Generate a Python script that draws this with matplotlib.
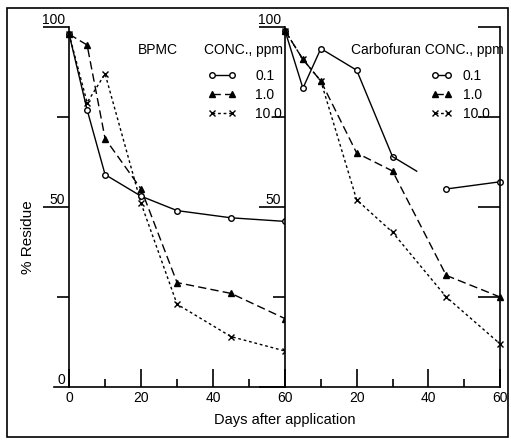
"""BPMC / Carbofuran residue decline, two panels sharing one frame."""

import matplotlib

matplotlib.use("Agg")
import matplotlib.pyplot as plt
from matplotlib.patches import Rectangle

days = [0, 5, 10, 20, 30, 45, 60]
conc_labels = ["0.1", "1.0", "10.0"]

bpmc_01 = [98, 77, 59, 53, 49, 47, 46]
bpmc_1 = [98, 95, 69, 55, 29, 26, 19]
bpmc_10 = [98, 79, 87, 51, 23, 14, 10]

carbo_01 = [99, 83, 94, 88, 64, 55, 57]
carbo_1 = [99, 91, 85, 65, 60, 31, 25]
carbo_10 = [99, 91, 85, 52, 43, 25, 12]

W, H = 511, 442
plt.rcParams["font.family"] = ["Liberation Sans", "DejaVu Sans"]
plt.rcParams["font.size"] = 10


def px(x0, y0, x1, y1):
    # pixel box (top-left origin) -> figure fraction rect
    return [x0 / W, 1 - y1 / H, (x1 - x0) / W, (y1 - y0) / H]


STYLE = {
    "0.1": dict(color="black", lw=1.0, marker="o", ms=4, mfc="white", mew=1.0),
    "1.0": dict(color="black", lw=1.0, ls=(0, (6, 3)), marker="^", ms=4.5),
    "10.0": dict(color="black", lw=1.0, ls=(0, (2, 2)), marker="x", ms=5, mew=1.0),
}


def style_axis(ax, xlabels, ylabels):
    ax.set_ylim(0, 100)
    ax.spines["top"].set_visible(False)
    for s in ax.spines.values():
        s.set_linewidth(1.2)
    ax.set_xticks([0, 20, 40, 60])
    ax.set_xticklabels(xlabels)
    ax.set_xticks([10, 30, 50], minor=True)
    ax.tick_params(axis="x", which="major", direction="in", length=13, width=1.2, pad=3, labelsize=10)
    ax.tick_params(axis="x", which="minor", direction="in", length=6, width=1.2)
    ax.set_yticks([0, 50, 100])
    ax.set_yticklabels(ylabels)
    ax.set_yticks([25, 75], minor=True)
    ax.tick_params(axis="y", which="major", direction="out", length=19, width=1.2, pad=-16, labelsize=10)
    ax.tick_params(axis="y", which="minor", direction="out", length=8.5, width=1.2)
    for lab in ax.get_yticklabels():
        lab.set_va("bottom")
    ax.yaxis.get_major_ticks()[0].tick1line.set_visible(False)


fig = plt.figure(figsize=(W / 100, H / 100), dpi=100)

ax1 = fig.add_axes(px(54, 27, 285, 387))
ax1.set_xlim(-4.2, 60)
ax1.spines["left"].set_position(("data", 0))
ax1.spines["left"].set_bounds(0, 100)
ax1.spines["right"].set_visible(False)
style_axis(ax1, ["0", "20", "40", "60"], ["0", "50", "100"])

ax2 = fig.add_axes(px(285, 27, 500, 387))
ax2.set_xlim(0, 60)
style_axis(ax2, ["", "20", "40", "60"], ["", "50", "100"])

ax2r = ax2.twinx()
ax2r.set_ylim(0, 100)
ax2r.set_yticks([25, 50, 75, 100])
ax2r.set_yticklabels([])
ax2r.tick_params(axis="y", direction="in", length=16, width=1.2)
for s in ax2r.spines.values():
    s.set_visible(False)

# left panel
h1 = []
for lab, vals in zip(conc_labels, [bpmc_01, bpmc_1, bpmc_10]):
    (ln,) = ax1.plot(days, vals, clip_on=False, **STYLE[lab])
    h1.append(ln)

# right panel: the 0.1 curve is broken between day 30 and day 45 in the original
h2 = []
(ln,) = ax2.plot(days[:5], carbo_01[:5], clip_on=False, **STYLE["0.1"])
h2.append(ln)
f = 0.45
ax2.plot([days[4], days[4] + f * (days[5] - days[4])],
         [carbo_01[4], carbo_01[4] + f * (carbo_01[5] - carbo_01[4])],
         color="black", lw=1.0)
ax2.plot(days[5:], carbo_01[5:], clip_on=False, **STYLE["0.1"])
for lab, vals in zip(conc_labels[1:], [carbo_1, carbo_10]):
    (ln,) = ax2.plot(days, vals, clip_on=False, **STYLE[lab])
    h2.append(ln)

# legends
fig.text(158 / W, 1 - 50 / H, "BPMC", ha="center", va="center", fontsize=10)
fig.text(243 / W, 1 - 50 / H, "CONC., ppm", ha="center", va="center", fontsize=10)
fig.text(427 / W, 1 - 50 / H, "Carbofuran CONC., ppm", ha="center", va="center", fontsize=10)
ax1.legend(h1, conc_labels, loc="upper left", bbox_to_anchor=(208 / W, 1 - 69 / H),
           bbox_transform=fig.transFigure, frameon=False, numpoints=2, borderpad=0,
           borderaxespad=0, handlelength=2.0, handletextpad=1.4, labelspacing=0.35)
ax2.legend(h2, conc_labels, loc="upper left", bbox_to_anchor=(431 / W, 1 - 69 / H),
           bbox_transform=fig.transFigure, frameon=False, numpoints=2, borderpad=0,
           borderaxespad=0, handlelength=1.5, handletextpad=0.8, labelspacing=0.35)

fig.text(285 / W, 1 - 420 / H, "Days after application", ha="center", va="center", fontsize=10.5)
fig.text(28 / W, 1 - 237 / H, "% Residue", ha="center", va="center", rotation=90, fontsize=11)

fig.patches.append(Rectangle((7 / W, 5 / H), 501 / W, 429 / H, transform=fig.transFigure,
                             fill=False, lw=1.2, color="black"))

fig.savefig("out.png", dpi=100)
